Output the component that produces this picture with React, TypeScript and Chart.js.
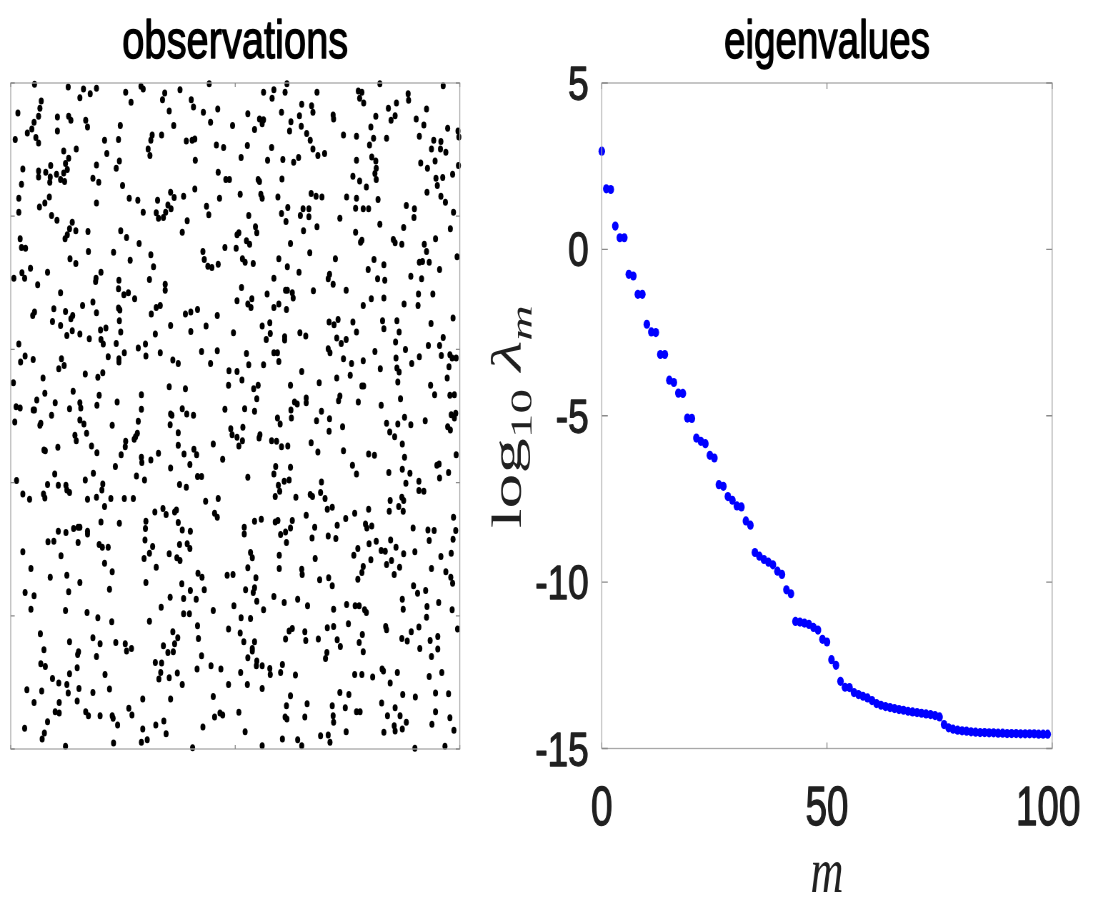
import React, { useEffect, useRef } from "react";
import { Chart, registerables } from "chart.js";

Chart.register(...registerables);

// ---------- page / figure geometry ----------
const PAGE_W = 1093;
const PAGE_H = 899;
const SQUEEZE = 1.4; // the source figure is squeezed horizontally
const CANVAS_W = Math.round(PAGE_W * SQUEEZE);

const SANS = '"Liberation Sans", Arial, Helvetica, sans-serif';
const SERIF = '"Liberation Serif", "Times New Roman", serif';

// ---------- texts ----------
const leftTitle = "observations";
const rightTitle = "eigenvalues";
const xAxisLabel = "m";

// ---------- tick values ----------
const obsXTicks = [0, 500, 1000];
const obsYTicks = [0, 200, 400, 600, 800, 1000];
const eigXTicks = [0, 50, 100];
const eigYTicks = [-15, -10, -5, 0, 5];

// ---------- observations (unit square, in thousandths) ----------
const obsX = [
  53,128,162,154,177,191,256,268,290,295,343,338,377,402,407,442,
  16,68,65,62,52,47,37,56,62,10,104,104,129,134,167,171,244,353,363,429,461,445,494,
  209,240,214,242,235,306,310,312,315,336,391,404,410,458,474,411,118,146,129,122,126,89,78,62,62,88,87,102,111,118,120,27,24,183,196,191,249,462,479,487,410,
  18,18,86,76,64,91,103,137,131,145,126,121,172,191,264,283,295,327,324,329,340,345,350,357,356,364,385,393,382,436,441,465,245,258,286,21,
  615,822,963,563,586,582,611,682,774,782,777,786,885,886,859,841,847,856,926,903,920,973,996,998,
  648,670,673,603,643,624,621,647,659,667,673,684,699,718,719,528,554,563,560,543,
  741,770,802,813,808,799,837,910,942,937,958,957,969,527,581,513,572,606,630,641,
  770,804,813,814,811,814,762,777,792,913,928,945,997,984,947,962,950,927,958,968,986,979,
  551,554,604,511,557,560,595,669,680,693,748,770,818,617,603,613,651,664,645,664,682,652,
  733,768,785,797,822,768,782,779,852,856,871,881,899,898,875,921,946,530,545,548,504,508,525,532,623,
  24,33,173,229,312,428,431,439,448,462,477,132,145,266,318,44,7,25,31,82,
  60,190,189,201,241,240,252,262,276,309,344,344,111,96,122,138,134,160,183,191,
  240,243,242,245,200,212,324,333,313,389,401,416,460,49,53,93,111,125,137,154,
  175,201,206,235,322,356,401,435,496,18,32,22,50,113,107,119,217,241,241,253,
  284,300,301,333,361,373,425,445,460,486,6,72,76,166,194,205,139,197,58,99,
  154,156,131,192,237,291,291,353,389,485,382,477,12,21,50,53,
  502,926,516,522,540,597,616,642,666,723,809,831,796,817,833,710,707,718,747,586,
  514,504,528,535,537,571,586,597,614,612,616,627,629,674,785,803,831,876,908,907,
  940,891,915,910,917,932,955,994,560,577,578,569,610,610,644,657,709,720,729,762,
  770,726,736,747,828,831,860,865,857,879,936,963,955,930,985,525,530,586,594,597,
  563,707,711,741,759,785,811,858,860,865,893,910,959,978,983,976,992,504,515,541,
  551,548,623,648,687,726,756,782,786,823,862,868,935,944,972,978,988,733,730,632,
  638,658,658,774,825,521,543,624,692,
  9,91,356,359,392,407,65,67,154,163,169,143,146,226,284,282,278,275,355,373,
  490,493,74,77,105,180,192,256,255,246,233,291,292,312,329,373,386,408,414,399,
  356,451,472,98,13,82,106,123,125,131,166,184,205,203,280,298,376,391,416,425,
  27,42,73,76,171,191,209,223,253,273,434,462,454,460,321,339,346,365,369,201,
  242,301,300,373,382,400,106,123,140,150,154,171,171,83,96,150,197,204,217,299,
  316,309,297,353,370,377,376,393,399,27,112,209,226,324,45,88,125,417,426,482,
  495,
  594,625,600,681,710,709,739,837,844,862,877,891,923,855,872,981,988,991,973,979,
  517,504,516,508,555,553,581,592,603,617,669,684,741,797,810,877,872,889,842,761,
  770,992,949,954,975,955,528,590,586,623,596,599,589,609,620,635,667,672,690,692,
  700,705,716,880,909,909,920,845,843,864,871,875,874,797,766,746,727,658,677,671,
  707,724,790,793,804,986,991,985,896,929,943,932,520,520,543,558,589,595,627,623,
  612,601,614,814,798,773,764,825,834,846,858,875,900,866,848,837,802,785,782,773,
  534,538,528,546,598,598,648,649,678,688,708,854,937,958,981,969,980,
  154,301,381,32,52,45,129,122,220,170,194,225,309,335,355,385,400,413,431,385,
  398,451,497,416,361,372,365,340,362,350,418,425,415,446,468,485,66,74,131,151,
  149,183,199,191,234,255,258,269,67,77,148,131,210,93,107,125,128,152,183,220,
  322,336,334,330,353,371,382,36,69,52,108,99,108,148,167,173,199,226,228,238,
  263,270,294,356,451,485,466,472,454,428,323,341,346,294,291,304,229,122,31,82,
  75,70,405,
  716,984,523,540,543,548,563,586,609,639,661,719,748,767,776,788,792,872,874,897,
  906,924,927,926,953,983,513,534,511,519,543,538,538,528,548,547,560,577,578,605,
  601,512,527,560,612,620,627,655,657,685,705,719,752,727,734,783,776,785,704,701,
  634,835,837,871,883,892,909,911,934,951,951,937,995,827,830,861,845,806,766,782,
  932,960,873,901,946,975,733,753,623,614,660,716,745,770,778,826,856,839,867,881,
  854,856,872,831,946,938,978,987,508,522,560,605,611,615,639,648,655,718,719,690,
  707,711,747,900,967,
];

const obsY = [
  998,994,991,978,984,992,986,971,995,991,985,975,990,975,964,999,
  955,973,962,950,941,931,925,918,910,915,949,928,950,944,944,934,936,958,936,956,961,941,936,
  914,915,894,883,872,901,891,914,922,922,913,914,916,907,903,884,898,901,887,879,870,876,866,868,859,859,851,863,855,865,852,871,848,857,851,877,846,866,855,855,841,
  827,806,829,820,814,801,794,791,781,778,772,766,777,820,827,824,806,824,805,797,798,806,817,811,836,828,830,793,776,815,802,827,778,768,759,766,
  999,999,996,986,990,977,986,986,988,986,977,970,984,974,970,962,944,951,961,946,937,932,928,919,
  968,966,956,956,951,942,928,935,924,914,901,891,894,952,946,954,946,945,939,930,
  922,920,934,950,917,907,917,920,914,901,912,901,896,906,903,888,884,885,881,888,
  884,889,883,872,864,855,860,853,844,880,872,883,876,863,857,858,846,836,830,821,806,781,
  855,852,856,833,833,827,829,834,830,829,829,827,825,813,804,792,811,811,801,799,784,778,
  797,812,811,811,788,776,764,761,765,760,758,816,811,798,783,758,766,801,784,775,772,775,763,758,759,
  753,752,747,746,742,747,735,725,723,728,753,736,729,734,724,722,707,715,707,716,
  697,707,702,716,704,691,682,685,676,705,698,689,685,661,657,651,646,666,671,655,
  662,659,643,626,629,632,663,666,653,653,656,660,651,651,656,642,636,621,628,623,
  616,615,608,609,623,636,627,635,625,608,590,581,585,586,571,576,589,586,581,595,
  602,608,590,595,584,579,597,579,598,568,550,557,534,563,558,565,537,531,524,520,
  520,512,511,516,521,532,510,544,541,546,511,510,514,512,509,509,
  752,747,736,731,729,736,724,716,745,736,735,727,720,706,704,713,706,698,689,707,
  693,673,668,663,676,683,663,668,660,689,689,685,677,688,666,676,677,668,683,666,
  683,710,706,731,732,731,720,739,635,640,624,615,619,614,625,620,641,637,645,641,
  626,617,609,615,643,631,643,626,611,600,639,618,606,606,647,594,577,595,595,582,
  577,601,595,586,579,583,597,587,572,566,579,589,591,592,587,574,587,567,554,541,
  546,526,546,567,550,557,561,545,545,571,551,526,546,532,557,531,532,530,523,521,
  518,527,520,521,516,511,507,509,507,
  491,501,503,501,503,501,486,489,494,488,474,471,463,486,492,474,469,465,487,475,
  481,472,449,448,453,455,445,462,454,442,424,438,430,434,444,456,443,450,442,427,
  422,458,435,413,403,397,396,396,389,385,404,414,398,389,410,404,397,393,409,409,
  383,375,383,377,375,378,364,376,376,376,372,376,354,348,356,361,352,356,359,341,
  339,342,331,340,329,327,327,325,331,333,333,327,323,311,312,310,307,303,303,314,
  304,294,286,293,287,283,307,308,301,296,290,279,266,273,271,258,261,264,258,261,
  262,
  497,497,488,493,496,477,484,489,476,488,498,487,493,469,458,502,497,504,484,479,
  483,468,463,455,472,467,463,462,454,455,460,446,448,443,441,438,420,414,415,426,
  413,442,426,428,415,407,408,424,413,423,396,387,379,402,404,378,382,379,385,401,
  376,360,363,399,402,388,387,373,357,364,378,373,357,360,354,346,336,351,333,317,
  320,316,338,332,335,348,328,315,332,329,328,313,333,323,342,345,341,343,343,332,
  326,322,310,312,308,301,291,298,297,314,303,293,296,273,283,277,284,274,265,255,
  295,287,272,257,291,271,270,262,286,254,257,262,271,289,294,266,258,
  250,250,248,235,230,210,236,208,240,205,197,191,192,213,228,226,238,225,239,203,
  203,208,215,185,176,167,158,155,146,145,166,140,120,125,120,180,173,149,161,146,
  142,167,158,139,160,158,147,151,128,124,122,113,112,106,99,97,84,91,85,90,
  130,129,115,105,107,114,97,89,87,70,70,56,54,72,56,50,50,50,46,36,
  61,51,75,75,79,97,54,51,48,33,36,42,23,30,10,14,9,4,31,41,
  24,15,2,
  245,249,239,235,242,222,209,229,220,225,215,210,217,215,215,209,205,225,210,245,
  234,238,214,198,220,209,197,196,174,161,161,151,147,137,132,125,125,121,112,127,
  115,115,97,91,165,177,181,176,163,165,182,184,188,164,154,172,160,146,145,136,
  111,184,179,166,162,176,183,151,163,169,150,139,180,120,117,115,99,108,112,112,
  109,115,82,78,84,83,85,82,80,65,68,65,62,56,56,69,62,50,50,40,
  35,27,30,25,56,37,47,28,55,26,5,15,48,45,14,5,48,50,40,20,
  21,10,26,1,4,
];

// ---------- eigenvalues ----------
const eigM = [
  0,1,2,3,4,5,6,7,8,9,10,11,12,13,14,15,16,17,18,19,
  20,21,22,23,24,25,26,27,28,29,30,31,32,33,34,35,36,37,38,39,
  40,41,42,43,44,45,46,47,48,49,50,51,52,53,54,55,56,57,58,59,
  60,61,62,63,64,65,66,67,68,69,70,71,72,73,74,75,76,77,78,79,
  80,81,82,83,84,85,86,87,88,89,90,91,92,93,94,95,96,97,98,99,
];
const eigLog10 = [
  2.95,1.82,1.80,0.70,0.35,0.35,-0.75,-0.80,-1.35,-1.35,
  -2.25,-2.48,-2.50,-3.16,-3.16,-3.93,-4.00,-4.32,-4.33,-5.07,
  -5.08,-5.67,-5.77,-5.84,-6.19,-6.27,-7.07,-7.12,-7.43,-7.54,
  -7.71,-7.74,-8.16,-8.29,-9.11,-9.22,-9.32,-9.40,-9.48,-9.67,
  -9.77,-10.23,-10.35,-11.18,-11.20,-11.23,-11.27,-11.36,-11.44,-11.72,
  -11.80,-12.33,-12.50,-12.98,-13.16,-13.17,-13.32,-13.38,-13.43,-13.48,
  -13.56,-13.65,-13.70,-13.74,-13.77,-13.80,-13.83,-13.85,-13.88,-13.90,
  -13.92,-13.94,-13.96,-13.98,-14.01,-14.05,-14.28,-14.38,-14.42,-14.45,
  -14.47,-14.48,-14.50,-14.51,-14.52,-14.52,-14.53,-14.53,-14.54,-14.54,
  -14.55,-14.55,-14.55,-14.56,-14.56,-14.56,-14.56,-14.57,-14.57,-14.57,
];

// ---------- layout (page pixels) ----------
type Area = { left: number; right: number; top: number; bottom: number };
const LEFT_AREA: Area = { left: 10.7, right: 459.7, top: 83, bottom: 749 };
const RIGHT_AREA: Area = { left: 601.7, right: 1052, top: 83, bottom: 748.5 };

const FRAME_COLOR = "#a8a8a8";
const TICK_COLOR = "#8a8a8a";
const TEXT_DARK = "#202020";

function paddingFor(a: Area) {
  return {
    left: a.left * SQUEEZE,
    right: CANVAS_W - a.right * SQUEEZE,
    top: a.top,
    bottom: PAGE_H - a.bottom,
  };
}

function fixedTicks(values: number[]) {
  return (scale: any) => {
    scale.ticks = values.map((value) => ({ value }));
  };
}

function paintText(ctx: CanvasRenderingContext2D, text: string, x: number, y: number, weight: number) {
  ctx.fillText(text, x, y);
  if (weight > 0) {
    ctx.lineWidth = weight;
    ctx.lineJoin = "round";
    ctx.strokeStyle = ctx.fillStyle as string;
    ctx.strokeText(text, x, y);
  }
}

function drawFitted(ctx: CanvasRenderingContext2D, text: string, cx: number, baseline: number, font: string, targetPageWidth: number) {
  ctx.save();
  ctx.font = font;
  const w = ctx.measureText(text).width;
  ctx.translate(cx, baseline);
  ctx.scale((targetPageWidth * SQUEEZE) / w, 1);
  ctx.textAlign = "center";
  ctx.textBaseline = "alphabetic";
  paintText(ctx, text, 0, 0, 1.4);
  ctx.restore();
}

function drawFrame(chart: any, tickPage: number) {
  const { ctx, chartArea: a, scales } = chart;
  const xs = scales.x;
  const ys = scales.y;
  ctx.save();
  ctx.strokeStyle = FRAME_COLOR;
  ctx.lineWidth = 1.3;
  ctx.strokeRect(a.left, a.top, a.right - a.left, a.bottom - a.top);
  ctx.strokeStyle = TICK_COLOR;
  ctx.beginPath();
  const tv = tickPage;
  const th = tickPage * SQUEEZE;
  for (const t of xs.ticks) {
    const px = xs.getPixelForValue(t.value);
    ctx.moveTo(px, a.bottom);
    ctx.lineTo(px, a.bottom - tv);
    ctx.moveTo(px, a.top);
    ctx.lineTo(px, a.top + tv);
  }
  for (const t of ys.ticks) {
    const py = ys.getPixelForValue(t.value);
    ctx.moveTo(a.left, py);
    ctx.lineTo(a.left + th, py);
    ctx.moveTo(a.right, py);
    ctx.lineTo(a.right - th, py);
  }
  ctx.stroke();
  ctx.restore();
}

const leftDecor = {
  id: "leftDecor",
  afterDraw(chart: any) {
    const { ctx, chartArea: a } = chart;
    drawFrame(chart, 4);
    ctx.save();
    ctx.fillStyle = "#000";
    drawFitted(ctx, leftTitle, (a.left + a.right) / 2, 58, `54px ${SANS}`, 226);
    ctx.restore();
  },
};

function drawYLabel(ctx: CanvasRenderingContext2D, cx: number, cy: number, targetLen: number) {
  const F = 60;
  const f = 42;
  const parts = [
    { t: "log", font: `${F}px ${SERIF}`, dy: 0 },
    { t: "10", font: `${f}px ${SERIF}`, dy: 0.24 * F },
    { t: " ", font: `${F}px ${SERIF}`, dy: 0 },
    { t: "\u03bb", font: `italic ${F}px ${SERIF}`, dy: 0 },
    { t: "m", font: `italic ${f}px ${SERIF}`, dy: 0.24 * F },
  ];
  ctx.save();
  const widths = parts.map((p) => {
    ctx.font = p.font;
    return ctx.measureText(p.t).width;
  });
  const total = widths.reduce((s, w) => s + w, 0);
  ctx.translate(cx, cy);
  ctx.rotate(-Math.PI / 2);
  ctx.scale(targetLen / total, 1);
  ctx.textAlign = "left";
  ctx.textBaseline = "alphabetic";
  let x = -total / 2;
  parts.forEach((p, i) => {
    ctx.font = p.font;
    ctx.fillText(p.t, x, p.dy);
    x += widths[i];
  });
  ctx.restore();
}

const rightDecor = {
  id: "rightDecor",
  afterDraw(chart: any) {
    const { ctx, chartArea: a, scales } = chart;
    drawFrame(chart, 6);
    const xs = scales.x;
    const ys = scales.y;
    ctx.save();
    // title
    ctx.fillStyle = "#000";
    drawFitted(ctx, rightTitle, (a.left + a.right) / 2, 58, `54px ${SANS}`, 206);
    // y tick labels
    ctx.fillStyle = TEXT_DARK;
    ctx.font = `48px ${SANS}`;
    ctx.textAlign = "right";
    ctx.textBaseline = "alphabetic";
    for (const t of ys.ticks) {
      const py = ys.getPixelForValue(t.value);
      ctx.save();
      ctx.translate(a.left - 13 * SQUEEZE, py + 17);
      ctx.scale(1.08, 1);
      paintText(ctx, String(t.value), 0, 0, 1.3);
      ctx.restore();
    }
    // x tick labels
    ctx.font = `56px ${SANS}`;
    ctx.textAlign = "center";
    for (const t of xs.ticks) {
      const px = xs.getPixelForValue(t.value);
      const shift = t.value === 100 ? -4 * SQUEEZE : 0;
      ctx.save();
      ctx.translate(px + shift, 825);
      ctx.scale(0.97, 1);
      paintText(ctx, String(t.value), 0, 0, 1.3);
      ctx.restore();
    }
    // x label
    ctx.font = `italic 64px ${SERIF}`;
    ctx.textAlign = "center";
    ctx.fillText(xAxisLabel, (a.left + a.right) / 2, 892);
    // y label
    drawYLabel(ctx, 521 * SQUEEZE, (a.top + a.bottom) / 2 + 1, 223);
    ctx.restore();
  },
};

export default function App() {
  const leftRef = useRef<HTMLCanvasElement | null>(null);
  const rightRef = useRef<HTMLCanvasElement | null>(null);

  useEffect(() => {
    if (!leftRef.current || !rightRef.current) return;

    const obsData = obsX.map((x, i) => ({ x, y: obsY[i] }));
    const eigData = eigM.map((m, i) => ({ x: m, y: eigLog10[i] }));

    const common = {
      responsive: false,
      maintainAspectRatio: false,
      devicePixelRatio: 1,
      animation: false as const,
      events: [] as any[],
      plugins: {
        legend: { display: false },
        title: { display: false },
        tooltip: { enabled: false },
      },
    };

    const left = new Chart(leftRef.current, {
      type: "scatter",
      data: {
        datasets: [
          {
            data: obsData,
            pointRadius: 3.5,
            pointHoverRadius: 3.5,
            pointBackgroundColor: "#000000",
            pointBorderWidth: 0,
            clip: false as any,
          },
        ],
      },
      options: {
        ...common,
        layout: { padding: paddingFor(LEFT_AREA), autoPadding: false },
        scales: {
          x: { type: "linear", min: 0, max: 1000, display: false, afterBuildTicks: fixedTicks(obsXTicks) },
          y: { type: "linear", min: 0, max: 1000, display: false, afterBuildTicks: fixedTicks(obsYTicks) },
        },
      } as any,
      plugins: [leftDecor],
    });

    const right = new Chart(rightRef.current, {
      type: "scatter",
      data: {
        datasets: [
          {
            data: eigData,
            pointRadius: 4.6,
            pointHoverRadius: 4.6,
            pointBackgroundColor: "#0000ff",
            pointBorderWidth: 0,
            clip: false as any,
          },
        ],
      },
      options: {
        ...common,
        layout: { padding: paddingFor(RIGHT_AREA), autoPadding: false },
        scales: {
          x: { type: "linear", min: 0, max: 100, display: false, afterBuildTicks: fixedTicks(eigXTicks) },
          y: { type: "linear", min: -15, max: 5, display: false, afterBuildTicks: fixedTicks(eigYTicks) },
        },
      } as any,
      plugins: [rightDecor],
    });

    return () => {
      left.destroy();
      right.destroy();
    };
  }, []);

  const canvasStyle: React.CSSProperties = {
    position: "absolute",
    left: 0,
    top: 0,
    width: `${PAGE_W}px`,
    height: `${PAGE_H}px`,
  };

  return (
    <div
      style={{
        position: "fixed",
        left: 0,
        top: 0,
        width: PAGE_W,
        height: PAGE_H,
        background: "#ffffff",
        overflow: "hidden",
      }}
    >
      <canvas ref={leftRef} width={CANVAS_W} height={PAGE_H} style={canvasStyle} />
      <canvas ref={rightRef} width={CANVAS_W} height={PAGE_H} style={canvasStyle} />
    </div>
  );
}
